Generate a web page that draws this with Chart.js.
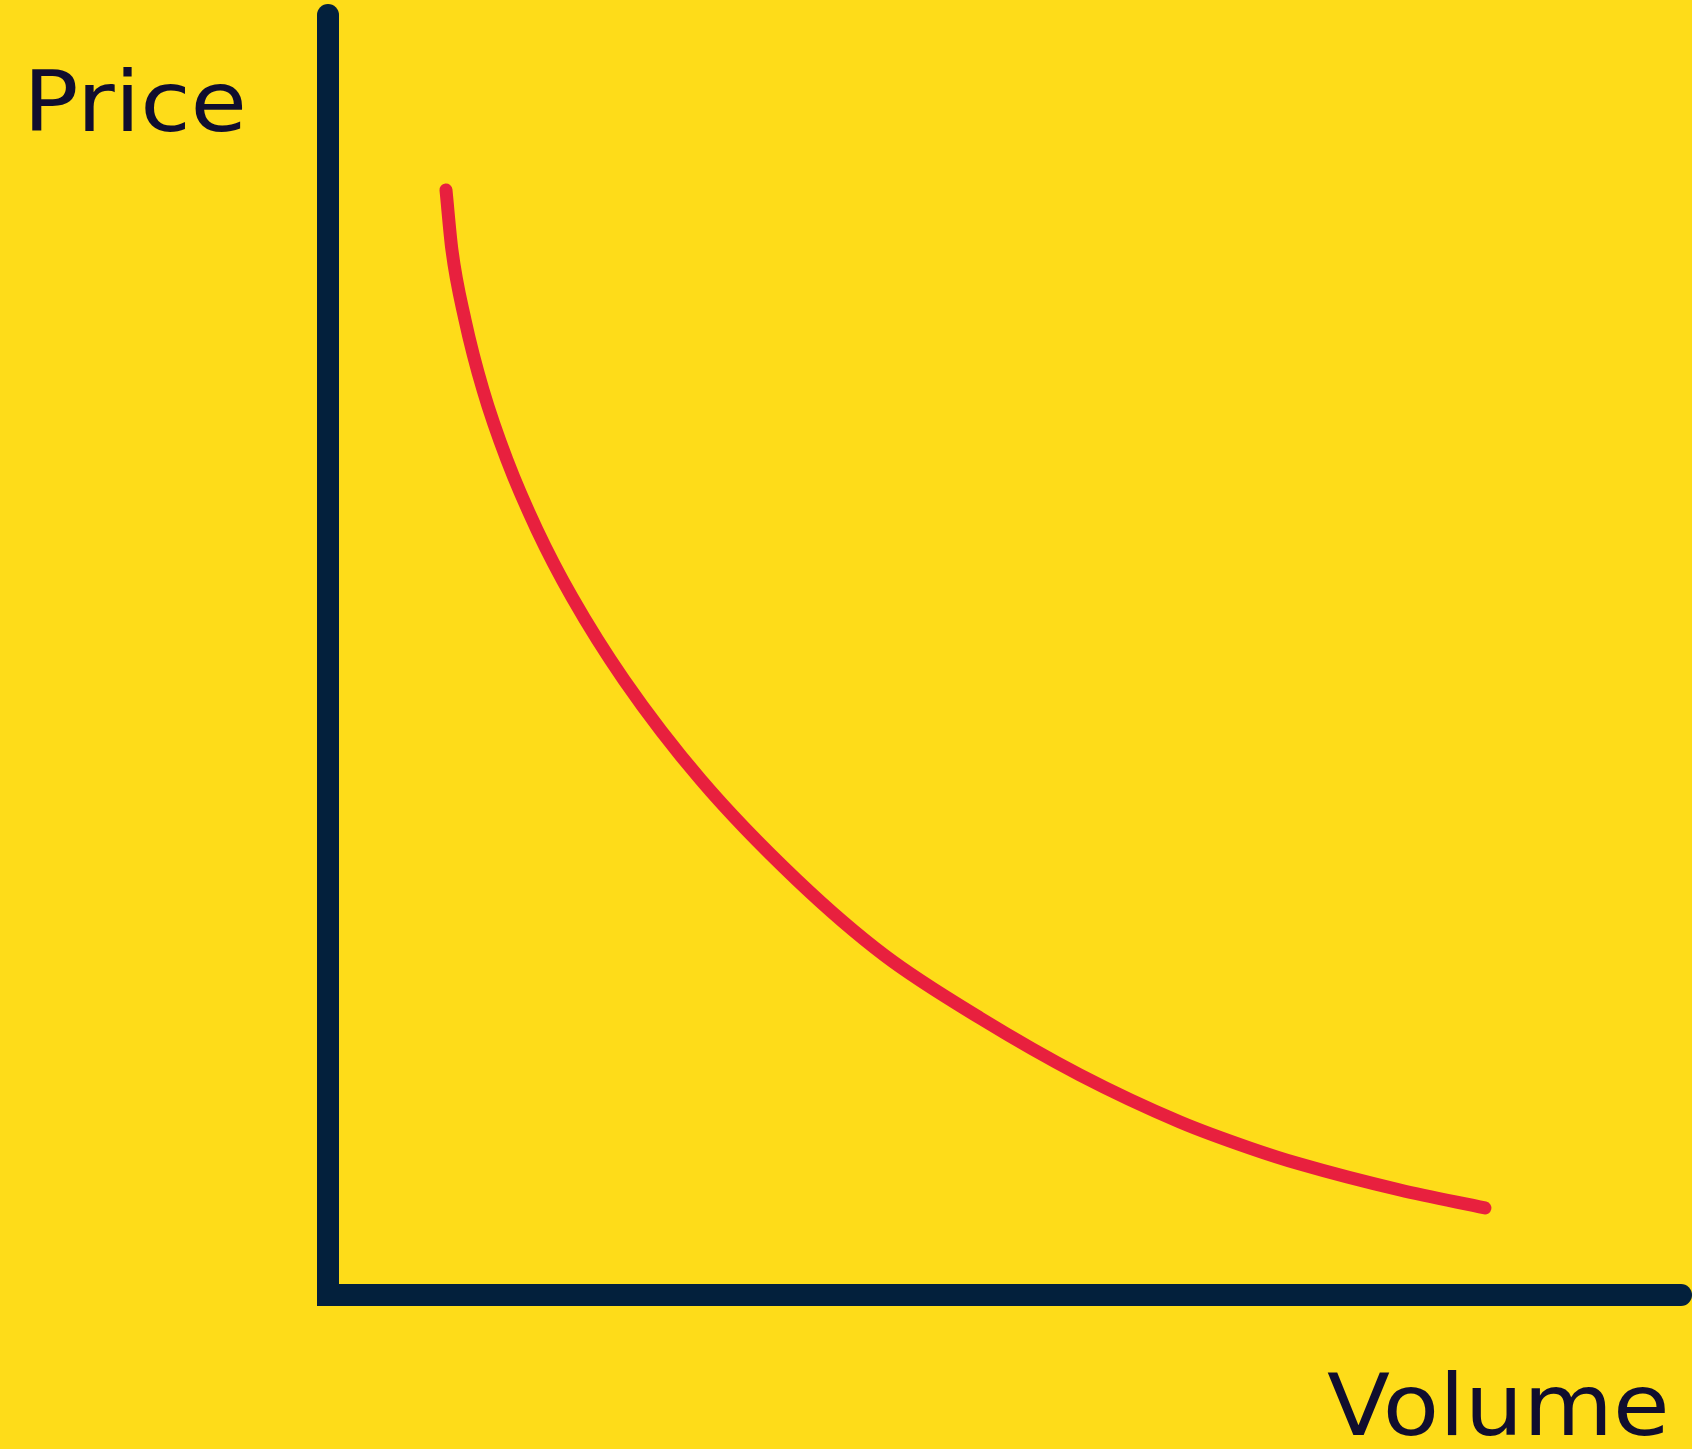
<!DOCTYPE html>
<html>
<head>
<meta charset="utf-8">
<script src="https://cdn.jsdelivr.net/npm/chart.js@4.4.1/dist/chart.umd.min.js"></script>
<style>
  html, body { margin: 0; padding: 0; background: #fedc19; }
  #wrap { width: 1692px; height: 1449px; position: relative; }
  canvas { display: block; }
</style>
</head>
<body>
<div id="wrap"><canvas id="c" width="1692" height="1449"></canvas></div>
<script>
// Demand curve: volume (x) vs price (y), arbitrary units 0-100
const volume = [8.72, 9.16, 10.13, 11.46, 13.23, 15.45, 18.03, 21.88, 27.57, 34.66, 41.17, 48.19, 55.58, 62.97, 68.14, 71.84, 79.23, 85.51];
const price  = [86.33, 81.64, 76.17, 70.70, 65.23, 59.77, 54.53, 48.05, 40.23, 32.42, 26.50, 21.64, 17.19, 13.52, 11.48, 10.23, 8.20, 6.80];
const axisTitles = { y: 'Price', x: 'Volume' };

const BG = '#fedc19';
const AXIS = '#03203c';
const CURVE = '#e8203e';
const TEXT = '#100d2e';

const points = volume.map((v, i) => ({ x: v, y: price[i] }));

const bgPlugin = {
  id: 'bg',
  beforeDraw(chart) {
    const { ctx, width, height } = chart;
    ctx.save();
    ctx.fillStyle = BG;
    ctx.fillRect(0, 0, width, height);
    ctx.restore();
  }
};

const axesPlugin = {
  id: 'axesDraw',
  beforeDatasetsDraw(chart) {
    const { ctx, scales } = chart;
    const x0 = scales.x.getPixelForValue(0);
    const y0 = scales.y.getPixelForValue(0);
    const yTop = scales.y.getPixelForValue(100);
    const xRight = scales.x.getPixelForValue(100);
    ctx.save();
    ctx.strokeStyle = AXIS;
    ctx.lineWidth = 22;
    ctx.lineCap = 'round';
    ctx.beginPath();
    ctx.moveTo(x0, yTop);
    ctx.lineTo(x0, y0);
    ctx.stroke();
    ctx.beginPath();
    ctx.moveTo(x0, y0);
    ctx.lineTo(xRight, y0);
    ctx.stroke();
    ctx.fillStyle = AXIS;
    ctx.fillRect(x0 - 11, y0 - 11, 22, 22);
    ctx.restore();
  },
  afterDraw(chart) {
    const { ctx } = chart;
    ctx.save();
    ctx.fillStyle = TEXT;
    ctx.textBaseline = 'alphabetic';
    ctx.textAlign = 'left';
    function fitText(str, left, right, baseline, size) {
      ctx.font = size + 'px "DejaVu Sans"';
      const m = ctx.measureText(str);
      const w = m.actualBoundingBoxRight + m.actualBoundingBoxLeft;
      const sx = (right - left) / w;
      ctx.save();
      ctx.translate(left, baseline);
      ctx.scale(sx, 1);
      ctx.fillText(str, m.actualBoundingBoxLeft, 0);
      ctx.restore();
    }
    fitText(axisTitles.y, 32, 243, 131, 84);
    fitText(axisTitles.x, 1327, 1665, 1435, 85);
    ctx.restore();
  }
};

new Chart(document.getElementById('c'), {
  type: 'scatter',
  data: {
    datasets: [{
      data: points,
      showLine: true,
      borderColor: CURVE,
      borderWidth: 13,
      borderCapStyle: 'round',
      borderJoinStyle: 'round',
      cubicInterpolationMode: 'monotone',
      pointRadius: 0,
      pointHoverRadius: 0,
      fill: false
    }]
  },
  options: {
    responsive: false,
    animation: false,
    events: [],
    layout: { padding: { left: 328, right: 11, top: 15, bottom: 154 } },
    plugins: { legend: { display: false }, tooltip: { enabled: false } },
    scales: {
      x: { type: 'linear', min: 0, max: 100, display: false },
      y: { type: 'linear', min: 0, max: 100, display: false }
    }
  },
  plugins: [bgPlugin, axesPlugin]
});
</script>
</body>
</html>
